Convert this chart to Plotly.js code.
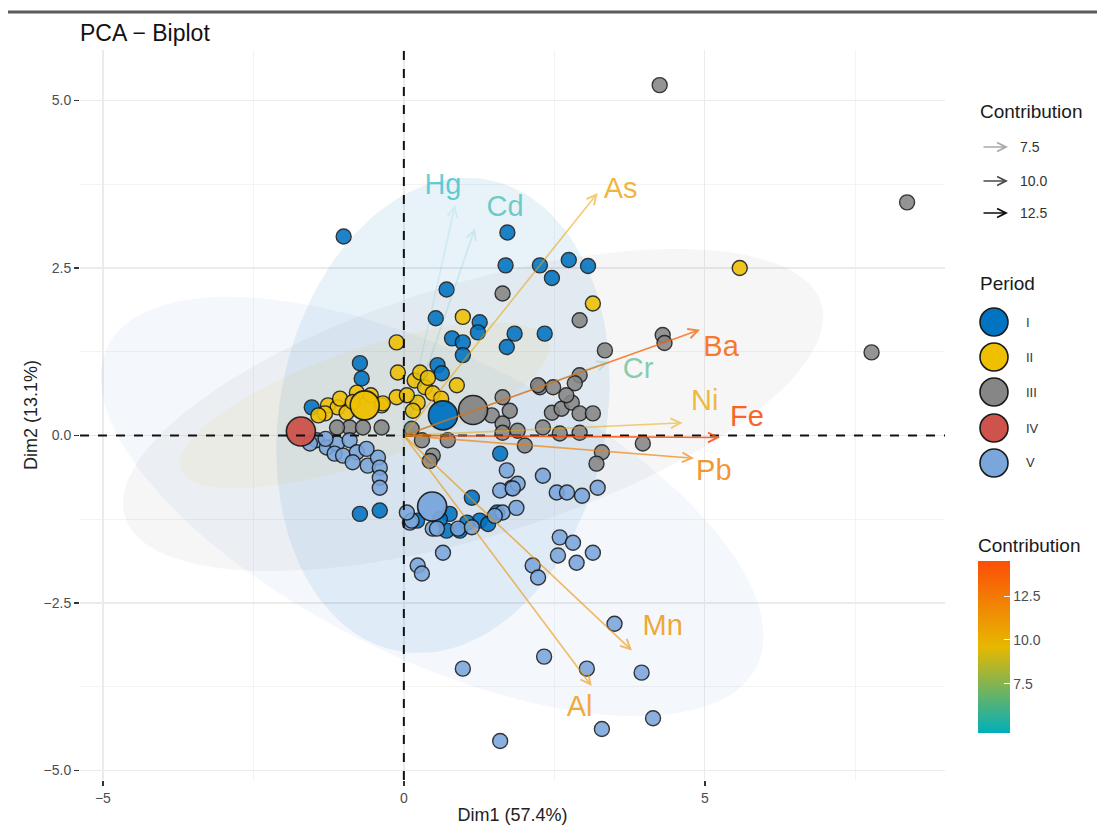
<!DOCTYPE html>
<html>
<head>
<meta charset="utf-8">
<script src="https://cdn.plot.ly/plotly-3.0.1.min.js"></script>
<style>html,body{margin:0;padding:0;background:#fff;}#chart{width:1097px;height:832px;}</style>
</head>
<body>
<div id="chart"></div>
<script>
// ---------------- DATA ----------------
const periods = ['I', 'II', 'III', 'IV', 'V'];
const periodColors = ['#0073C2', '#EFC000', '#868686', '#CD534C', '#7AA6DC'];

const pI_x = [-1.00, 1.72, 1.69, 2.26, 2.46, 2.74, 3.06, 0.71, 0.53, 1.26, 0.80, 0.98, 1.84, 2.34, 1.71, 0.98, 1.23, -0.73, -0.70, 0.56, 0.63, -1.53, 1.60, -0.73, -0.40, 0.76, 0.93, 1.13, 1.26, 1.40, 0.22, 0.71, 1.05, 0.60, 1.55];
const pI_y = [2.97, 3.03, 2.54, 2.54, 2.35, 2.62, 2.53, 2.18, 1.75, 1.69, 1.45, 1.39, 1.52, 1.52, 1.32, 1.20, 1.54, 1.08, 0.85, 1.05, 0.93, 0.42, -0.27, -1.17, -1.12, -1.17, -1.42, -0.93, -1.27, -1.32, -1.27, -1.42, -1.30, -1.25, -1.15];

const pII_x = [5.58, 3.14, 0.98, -0.12, -0.10, 0.18, 0.27, 0.35, 0.88, 0.48, 0.23, -0.12, 0.15, -0.37, -1.26, -1.10, -0.95, -0.78, -0.35, -1.31, -1.06, 0.62, -0.55, -1.42, 0.40, 0.05, -0.85];
const pII_y = [2.50, 1.97, 1.77, 1.39, 0.94, 0.82, 0.94, 0.72, 0.75, 0.63, 0.49, 0.57, 0.37, 0.45, 0.45, 0.42, 0.34, 0.64, 0.48, 0.33, 0.55, 0.55, 0.60, 0.30, 0.86, 0.60, 0.50];

const pIII_x = [4.25, 8.36, 7.77, 4.30, 4.33, 1.64, 2.92, 3.34, 2.92, 2.84, 1.64, 1.46, 1.76, 1.64, 2.26, 2.48, 2.23, 2.46, 2.62, 2.79, 2.92, 3.14, 2.31, 2.59, 2.92, 1.64, 1.89, 2.01, 0.73, 0.30, 0.48, 3.29, 3.20, 3.97, 0.13, -0.90, -0.68, -0.37, -1.11, 0.43, 2.70];
const pIII_y = [5.23, 3.48, 1.24, 1.50, 1.38, 2.12, 1.72, 1.27, 0.90, 0.78, 0.57, 0.30, 0.37, 0.18, 0.72, 0.72, 0.75, 0.34, 0.40, 0.49, 0.33, 0.33, 0.12, 0.03, 0.04, 0.04, 0.07, -0.15, -0.07, -0.07, -0.30, -0.25, -0.42, -0.12, 0.10, 0.12, 0.12, 0.12, 0.12, -0.38, 0.60];

const pIV_x = [];
const pIV_y = [];

const pV_x = [-1.45, -1.28, -1.11, -0.90, -1.15, -1.01, -0.78, -1.56, -0.60, -0.43, -0.40, -0.40, -0.40, -0.85, -1.30, -0.62, 1.71, 1.79, 1.60, 1.89, 2.31, 2.54, 2.71, 2.96, 3.22, 0.10, 0.48, 1.64, 1.87, 2.59, 2.81, 2.56, 2.87, 3.14, 2.14, 2.23, 0.65, 0.23, 0.30, 3.50, 0.98, 2.33, 3.04, 3.95, 4.14, 3.29, 1.60, 0.13, 0.55, 0.90, 1.13, 1.51, 1.81, 0.05];
const pV_y = [-0.07, -0.18, -0.12, -0.07, -0.27, -0.30, -0.25, -0.12, -0.45, -0.33, -0.48, -0.63, -0.78, -0.40, -0.05, -0.20, -0.52, -0.78, -0.82, -0.72, -0.60, -0.85, -0.85, -0.90, -0.78, -1.30, -1.39, -1.15, -1.08, -1.52, -1.60, -1.79, -1.90, -1.75, -1.94, -2.12, -1.75, -1.94, -2.06, -2.81, -3.48, -3.30, -3.48, -3.54, -4.22, -4.38, -4.56, -1.27, -1.39, -1.39, -1.37, -1.20, -0.79, -1.15];

const centroidX = [0.65, -0.65, 1.15, -1.71, 0.47];
const centroidY = [0.30, 0.45, 0.38, 0.06, -1.06];

// ellipse parameters (per period): semi-axes and rotation (deg)
const ellA = [3.6, 3.2, 6.0, 0.30, 5.9];
const ellB = [2.7, 0.85, 1.9, 0.20, 2.3];
const ellAngle = [75, 17, 15, 0, -23];
const ellAlpha = [0.09, 0.07, 0.075, 0.03, 0.085];

// variables (arrows)
const varNames = ['Hg', 'Cd', 'As', 'Ba', 'Cr', 'Ni', 'Fe', 'Pb', 'Mn', 'Al'];
const varX = [0.85, 1.18, 3.22, 4.92, 3.40, 4.63, 5.25, 4.82, 3.79, 3.12];
const varY = [3.44, 3.09, 3.62, 1.58, 1.10, 0.19, -0.03, -0.34, -3.21, -3.74];
const contrib = [4.7, 5.3, 10.6, 13.5, 6.2, 10.4, 14.5, 12.2, 11.4, 11.2];
const labelX = [0.65, 1.68, 3.60, 5.27, 3.89, 5.00, 5.70, 5.15, 4.30, 2.92];
const labelY = [3.72, 3.39, 3.66, 1.30, 0.97, 0.49, 0.25, -0.55, -2.87, -4.08];

const colorbarTicks = [7.5, 10, 12.5];
const colorbarTickText = ['7.5', '10.0', '12.5'];
const alphaLegendVals = ['7.5', '10.0', '12.5'];

// ---------------- HELPERS ----------------
const gradStops = [[0, '#00AFBB'], [0.5, '#E7B800'], [1, '#FC4E07']];
function hex2rgb(h) { return [parseInt(h.slice(1,3),16), parseInt(h.slice(3,5),16), parseInt(h.slice(5,7),16)]; }
function gradColor(t, alpha) {
  t = Math.max(0, Math.min(1, t));
  let i = 0;
  while (i < gradStops.length - 2 && t > gradStops[i+1][0]) i++;
  const [t0, c0] = gradStops[i], [t1, c1] = gradStops[i+1];
  const f = (t - t0) / (t1 - t0);
  const a = hex2rgb(c0), b = hex2rgb(c1);
  const c = a.map((v, k) => Math.round(v + (b[k] - v) * f));
  return 'rgba(' + c[0] + ',' + c[1] + ',' + c[2] + ',' + alpha + ')';
}
function rgba(hex, a) { const c = hex2rgb(hex); return 'rgba(' + c.join(',') + ',' + a + ')'; }
function ellipse(cx, cy, a, b, angDeg) {
  const th = angDeg * Math.PI / 180, xs = [], ys = [];
  for (let k = 0; k <= 120; k++) {
    const t = 2 * Math.PI * k / 120;
    xs.push(cx + a * Math.cos(t) * Math.cos(th) - b * Math.sin(t) * Math.sin(th));
    ys.push(cy + a * Math.cos(t) * Math.sin(th) + b * Math.sin(t) * Math.cos(th));
  }
  return [xs, ys];
}

const cMin = Math.min(...contrib), cMax = Math.max(...contrib);
const tOf = c => (c - cMin) / (cMax - cMin);

// ---------------- LAYOUT GEOMETRY ----------------
const W = 1097, H = 832;
const M = {l: 80, r: 152, t: 50, b: 52};
const PW = W - M.l - M.r, PH = H - M.t - M.b;
const px2x = px => (px - M.l) / PW;
const px2y = py => (H - M.b - py) / PH;
const FONT = 'Liberation Sans, Arial, sans-serif';

// ---------------- TRACES ----------------
const traces = [];
const ptsX = [pI_x, pII_x, pIII_x, pIV_x, pV_x];
const ptsY = [pI_y, pII_y, pIII_y, pIV_y, pV_y];

periods.forEach((p, i) => {
  const [ex, ey] = ellipse(centroidX[i], centroidY[i], ellA[i], ellB[i], ellAngle[i]);
  traces.push({type: 'scatter', mode: 'lines', x: ex, y: ey, fill: 'toself',
    fillcolor: rgba(periodColors[i], ellAlpha[i]), line: {width: 0},
    hoverinfo: 'skip', showlegend: false});
});

periods.forEach((p, i) => {
  traces.push({type: 'scatter', mode: 'markers', x: ptsX[i], y: ptsY[i], name: p,
    marker: {size: 15, color: periodColors[i], opacity: 0.88, line: {color: '#1a1a1a', width: 1.4}},
    showlegend: false});
});

traces.push({type: 'scatter', mode: 'markers', x: centroidX, y: centroidY,
  marker: {size: 29, color: periodColors, opacity: 0.95, line: {color: '#1a1a1a', width: 1.6}},
  hoverinfo: 'skip', showlegend: false});

traces.push({type: 'scatter', mode: 'text', x: labelX, y: labelY, text: varNames,
  textposition: 'middle center',
  textfont: {family: FONT, size: 29, color: contrib.map(c => gradColor(tOf(c), 0.6 + 0.3 * tOf(c)))},
  hoverinfo: 'skip', showlegend: false});

traces.push({type: 'scatter', mode: 'markers', x: varX, y: varY, hoverinfo: 'skip', showlegend: false,
  marker: {size: 1, opacity: 0, color: contrib, cmin: cMin, cmax: cMax,
    colorscale: gradStops, showscale: true,
    colorbar: {x: px2x(978), xanchor: 'left', xpad: 0, ypad: 0,
      y: px2y(733), yanchor: 'bottom', len: 198, lenmode: 'pixels',
      thickness: 32, thicknessmode: 'pixels', outlinewidth: 0,
      title: {text: 'Contribution', side: 'top', font: {family: FONT, size: 19, color: '#1a1a1a'}},
      tickvals: colorbarTicks, ticktext: colorbarTickText,
      tickfont: {family: FONT, size: 14, color: '#4d4d4d'},
      ticks: 'inside', ticklen: 6, tickcolor: 'white', tickwidth: 1}}});

// ---------------- ANNOTATIONS (arrows + legend) ----------------
const annotations = [];
varNames.forEach((v, i) => {
  const t = tOf(contrib[i]);
  annotations.push({x: varX[i], y: varY[i], ax: 0, ay: 0, xref: 'x', yref: 'y', axref: 'x', ayref: 'y',
    text: '', showarrow: true, arrowhead: 5, arrowsize: 1.2, arrowwidth: 1.6, standoff: 0,
    arrowcolor: gradColor(t, 0.1 + 0.75 * t)});
});

// alpha legend
annotations.push({xref: 'paper', yref: 'paper', x: px2x(978), y: px2y(112), xanchor: 'left', yanchor: 'middle',
  text: 'Contribution', showarrow: false, font: {family: FONT, size: 19, color: '#1a1a1a'}});
const alphaLegY = [147, 181, 213];
const alphaLegCol = ['#a8a8a8', '#4a4a4a', '#0d0d0d'];
alphaLegY.forEach((py, i) => {
  annotations.push({xref: 'paper', yref: 'paper', x: px2x(1008), y: px2y(py), ax: -26, ay: 0,
    text: '', showarrow: true, arrowhead: 5, arrowsize: 1.1, arrowwidth: 1.6, standoff: 0, arrowcolor: alphaLegCol[i]});
  annotations.push({xref: 'paper', yref: 'paper', x: px2x(1018), y: px2y(py), xanchor: 'left', yanchor: 'middle',
    text: alphaLegendVals[i], showarrow: false, font: {family: FONT, size: 14, color: '#333'}});
});

// period legend
annotations.push({xref: 'paper', yref: 'paper', x: px2x(978), y: px2y(283), xanchor: 'left', yanchor: 'middle',
  text: 'Period', showarrow: false, font: {family: FONT, size: 19, color: '#1a1a1a'}});
const perLegY = [322, 357, 392, 428, 463];
const shapes = [];
periods.forEach((p, i) => {
  shapes.push({type: 'circle', xref: 'paper', yref: 'paper', xsizemode: 'pixel', ysizemode: 'pixel',
    xanchor: px2x(994), yanchor: px2y(perLegY[i]), x0: -14, x1: 14, y0: -14, y1: 14,
    fillcolor: periodColors[i], line: {color: '#1a1a1a', width: 1.6}, layer: 'above'});
  annotations.push({xref: 'paper', yref: 'paper', x: px2x(1024), y: px2y(perLegY[i]), xanchor: 'left', yanchor: 'middle',
    text: p, showarrow: false, font: {family: FONT, size: 13, color: '#333'}});
});

// reference dashed lines at 0
shapes.push({type: 'line', xref: 'x', yref: 'paper', x0: 0, x1: 0, y0: 0, y1: 1,
  line: {color: '#111', width: 2, dash: 'dash'}, layer: 'above'});
shapes.push({type: 'line', xref: 'paper', yref: 'y', x0: 0, x1: 1, y0: 0, y1: 0,
  line: {color: '#111', width: 2, dash: 'dash'}, layer: 'above'});
// top border artifact
shapes.push({type: 'line', xref: 'paper', yref: 'paper', x0: px2x(8), x1: px2x(1097), y0: px2y(12), y1: px2y(12),
  line: {color: '#5a5a5a', width: 3}, layer: 'above'});

const axisCommon = {
  showline: false, zeroline: false, ticks: 'outside', ticklen: 5, tickwidth: 1.5, tickcolor: '#333',
  tickfont: {family: FONT, size: 14, color: '#4d4d4d'},
  gridcolor: '#EBEBEB', gridwidth: 1.3, automargin: false
};

const layout = {
  width: W, height: H, margin: M,
  paper_bgcolor: '#fff', plot_bgcolor: '#fff', showlegend: false,
  font: {family: FONT},
  title: {text: 'PCA − Biplot', x: 80 / W, xref: 'container', xanchor: 'left',
    y: 1 - 33 / H, yanchor: 'middle', font: {family: FONT, size: 23, color: '#111'}},
  xaxis: Object.assign({}, axisCommon, {range: [-5.38, 8.99], tickvals: [-5, 0, 5],
    minor: {dtick: 2.5, tick0: 0, showgrid: true, gridcolor: '#F2F2F2', gridwidth: 0.9, ticks: ''},
    title: {text: 'Dim1 (57.4%)', font: {family: FONT, size: 18, color: '#222'}, standoff: 3}}),
  yaxis: Object.assign({}, axisCommon, {range: [-5.142, 5.754], tickvals: [-5, -2.5, 0, 2.5, 5], tickformat: '.1f',
    minor: {dtick: 1.25, tick0: 0, showgrid: true, gridcolor: '#F2F2F2', gridwidth: 0.9, ticks: ''},
    title: {text: 'Dim2 (13.1%)', font: {family: FONT, size: 18, color: '#222'}, standoff: 1}}),
  shapes: shapes,
  annotations: annotations
};

Plotly.newPlot('chart', traces, layout, {displayModeBar: false, staticPlot: true});
</script>
</body>
</html>
